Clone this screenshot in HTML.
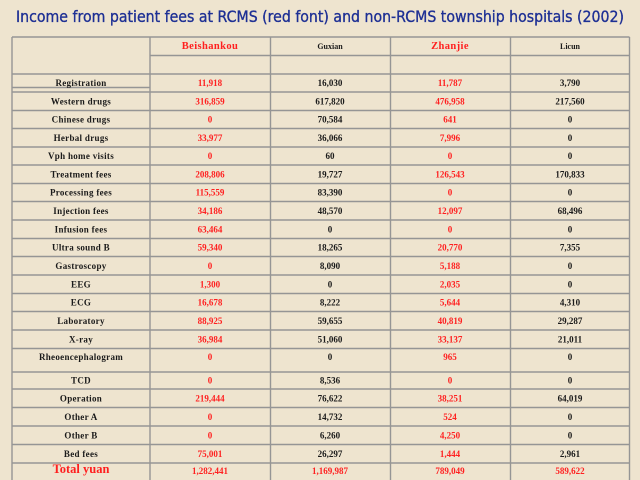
<!DOCTYPE html>
<html>
<head>
<meta charset="utf-8">
<style>
html,body{margin:0;padding:0;background:#eee4cf;}
svg{display:block;}
.t{font-family:"DejaVu Sans","Liberation Sans",sans-serif;font-size:16px;fill:#1d2f94;stroke:#1d2f94;stroke-width:0.35px;}
.l{font-family:"Liberation Serif",serif;font-size:9px;font-weight:bold;fill:#1a1a1a;text-anchor:middle;letter-spacing:0.3px;}
.r{font-family:"Liberation Serif",serif;font-size:9px;font-weight:bold;fill:#ff2020;text-anchor:middle;}
.k{font-family:"Liberation Serif",serif;font-size:9px;font-weight:bold;fill:#1a1a1a;text-anchor:middle;}
.hr{font-family:"Liberation Serif",serif;font-size:10.5px;font-weight:bold;fill:#ff1f1f;text-anchor:middle;letter-spacing:0.4px;}
.hk{font-family:"Liberation Serif",serif;font-size:8px;font-weight:bold;fill:#1a1a1a;text-anchor:middle;}
.tot{font-family:"Liberation Serif",serif;font-size:12.5px;font-weight:bold;fill:#ff1f1f;text-anchor:middle;}
line{stroke:#959595;stroke-width:1.4;}
</style>
</head>
<body>
<svg width="640" height="480" viewBox="0 0 640 480" xmlns="http://www.w3.org/2000/svg">
<rect x="0" y="0" width="640" height="480" fill="#eee4cf"/>
<text class="t" x="16" y="22" textLength="608" lengthAdjust="spacingAndGlyphs">Income from patient fees at RCMS (red font) and non-RCMS township hospitals (2002)</text>

<!-- vertical lines -->
<line x1="12" y1="37" x2="12" y2="482"/>
<line x1="150" y1="37" x2="150" y2="482"/>
<line x1="270.5" y1="37" x2="270.5" y2="482"/>
<line x1="390.5" y1="37" x2="390.5" y2="482"/>
<line x1="510.5" y1="37" x2="510.5" y2="482"/>
<line x1="629.5" y1="37" x2="629.5" y2="482"/>

<!-- horizontal lines -->
<line x1="12" y1="37" x2="629.5" y2="37"/>
<line x1="150" y1="55.5" x2="629.5" y2="55.5"/>
<line x1="12" y1="74" x2="629.5" y2="74"/>
<line x1="12" y1="87.5" x2="150" y2="87.5"/>
<line x1="12" y1="92" x2="629.5" y2="92"/>
<line x1="12" y1="110.5" x2="629.5" y2="110.5"/>
<line x1="12" y1="128.5" x2="629.5" y2="128.5"/>
<line x1="12" y1="147" x2="629.5" y2="147"/>
<line x1="12" y1="165" x2="629.5" y2="165"/>
<line x1="12" y1="183.5" x2="629.5" y2="183.5"/>
<line x1="12" y1="201.5" x2="629.5" y2="201.5"/>
<line x1="12" y1="220" x2="629.5" y2="220"/>
<line x1="12" y1="238.5" x2="629.5" y2="238.5"/>
<line x1="12" y1="256.5" x2="629.5" y2="256.5"/>
<line x1="12" y1="275" x2="629.5" y2="275"/>
<line x1="12" y1="293.5" x2="629.5" y2="293.5"/>
<line x1="12" y1="311.5" x2="629.5" y2="311.5"/>
<line x1="12" y1="330" x2="629.5" y2="330"/>
<line x1="12" y1="348.5" x2="629.5" y2="348.5"/>
<line x1="12" y1="372" x2="629.5" y2="372"/>
<line x1="12" y1="389" x2="629.5" y2="389"/>
<line x1="12" y1="407.5" x2="629.5" y2="407.5"/>
<line x1="12" y1="426" x2="629.5" y2="426"/>
<line x1="12" y1="444.5" x2="629.5" y2="444.5"/>
<line x1="12" y1="463" x2="629.5" y2="463"/>

<!-- header -->
<text class="hr" x="210" y="49">Beishankou</text>
<text class="hk" x="330" y="49">Guxian</text>
<text class="hr" x="450" y="49">Zhanjie</text>
<text class="hk" x="570" y="49">Licun</text>

<!-- rows -->
<g>
<text class="l" x="81" y="86">Registration</text>
<text class="r" x="210" y="86">11,918</text><text class="k" x="330" y="86">16,030</text><text class="r" x="450" y="86">11,787</text><text class="k" x="570" y="86">3,790</text>

<text class="l" x="81" y="104.3">Western drugs</text>
<text class="r" x="210" y="104.3">316,859</text><text class="k" x="330" y="104.3">617,820</text><text class="r" x="450" y="104.3">476,958</text><text class="k" x="570" y="104.3">217,560</text>

<text class="l" x="81" y="122.5">Chinese drugs</text>
<text class="r" x="210" y="122.5">0</text><text class="k" x="330" y="122.5">70,584</text><text class="r" x="450" y="122.5">641</text><text class="k" x="570" y="122.5">0</text>

<text class="l" x="81" y="140.8">Herbal drugs</text>
<text class="r" x="210" y="140.8">33,977</text><text class="k" x="330" y="140.8">36,066</text><text class="r" x="450" y="140.8">7,996</text><text class="k" x="570" y="140.8">0</text>

<text class="l" x="81" y="159">Vph home visits</text>
<text class="r" x="210" y="159">0</text><text class="k" x="330" y="159">60</text><text class="r" x="450" y="159">0</text><text class="k" x="570" y="159">0</text>

<text class="l" x="81" y="177.3">Treatment fees</text>
<text class="r" x="210" y="177.3">208,806</text><text class="k" x="330" y="177.3">19,727</text><text class="r" x="450" y="177.3">126,543</text><text class="k" x="570" y="177.3">170,833</text>

<text class="l" x="81" y="195.5">Processing fees</text>
<text class="r" x="210" y="195.5">115,559</text><text class="k" x="330" y="195.5">83,390</text><text class="r" x="450" y="195.5">0</text><text class="k" x="570" y="195.5">0</text>

<text class="l" x="81" y="213.8">Injection fees</text>
<text class="r" x="210" y="213.8">34,186</text><text class="k" x="330" y="213.8">48,570</text><text class="r" x="450" y="213.8">12,097</text><text class="k" x="570" y="213.8">68,496</text>

<text class="l" x="81" y="232.3">Infusion fees</text>
<text class="r" x="210" y="232.3">63,464</text><text class="k" x="330" y="232.3">0</text><text class="r" x="450" y="232.3">0</text><text class="k" x="570" y="232.3">0</text>

<text class="l" x="81" y="250.5">Ultra sound B</text>
<text class="r" x="210" y="250.5">59,340</text><text class="k" x="330" y="250.5">18,265</text><text class="r" x="450" y="250.5">20,770</text><text class="k" x="570" y="250.5">7,355</text>

<text class="l" x="81" y="268.8">Gastroscopy</text>
<text class="r" x="210" y="268.8">0</text><text class="k" x="330" y="268.8">8,090</text><text class="r" x="450" y="268.8">5,188</text><text class="k" x="570" y="268.8">0</text>

<text class="l" x="81" y="287.3">EEG</text>
<text class="r" x="210" y="287.3">1,300</text><text class="k" x="330" y="287.3">0</text><text class="r" x="450" y="287.3">2,035</text><text class="k" x="570" y="287.3">0</text>

<text class="l" x="81" y="305.5">ECG</text>
<text class="r" x="210" y="305.5">16,678</text><text class="k" x="330" y="305.5">8,222</text><text class="r" x="450" y="305.5">5,644</text><text class="k" x="570" y="305.5">4,310</text>

<text class="l" x="81" y="323.8">Laboratory</text>
<text class="r" x="210" y="323.8">88,925</text><text class="k" x="330" y="323.8">59,655</text><text class="r" x="450" y="323.8">40,819</text><text class="k" x="570" y="323.8">29,287</text>

<text class="l" x="81" y="342.3">X-ray</text>
<text class="r" x="210" y="342.3">36,984</text><text class="k" x="330" y="342.3">51,060</text><text class="r" x="450" y="342.3">33,137</text><text class="k" x="570" y="342.3">21,011</text>

<text class="l" x="81" y="360">Rheoencephalogram</text>
<text class="r" x="210" y="360">0</text><text class="k" x="330" y="360">0</text><text class="r" x="450" y="360">965</text><text class="k" x="570" y="360">0</text>

<text class="l" x="81" y="383.5">TCD</text>
<text class="r" x="210" y="383.5">0</text><text class="k" x="330" y="383.5">8,536</text><text class="r" x="450" y="383.5">0</text><text class="k" x="570" y="383.5">0</text>

<text class="l" x="81" y="401.3">Operation</text>
<text class="r" x="210" y="401.3">219,444</text><text class="k" x="330" y="401.3">76,622</text><text class="r" x="450" y="401.3">38,251</text><text class="k" x="570" y="401.3">64,019</text>

<text class="l" x="81" y="419.8">Other A</text>
<text class="r" x="210" y="419.8">0</text><text class="k" x="330" y="419.8">14,732</text><text class="r" x="450" y="419.8">524</text><text class="k" x="570" y="419.8">0</text>

<text class="l" x="81" y="438.3">Other B</text>
<text class="r" x="210" y="438.3">0</text><text class="k" x="330" y="438.3">6,260</text><text class="r" x="450" y="438.3">4,250</text><text class="k" x="570" y="438.3">0</text>

<text class="l" x="81" y="456.8">Bed fees</text>
<text class="r" x="210" y="456.8">75,001</text><text class="k" x="330" y="456.8">26,297</text><text class="r" x="450" y="456.8">1,444</text><text class="k" x="570" y="456.8">2,961</text>

<text class="tot" x="81" y="473">Total yuan</text>
<text class="r" x="210" y="474">1,282,441</text><text class="r" x="330" y="474">1,169,987</text><text class="r" x="450" y="474">789,049</text><text class="r" x="570" y="474">589,622</text>
</g>
</svg>
</body>
</html>
